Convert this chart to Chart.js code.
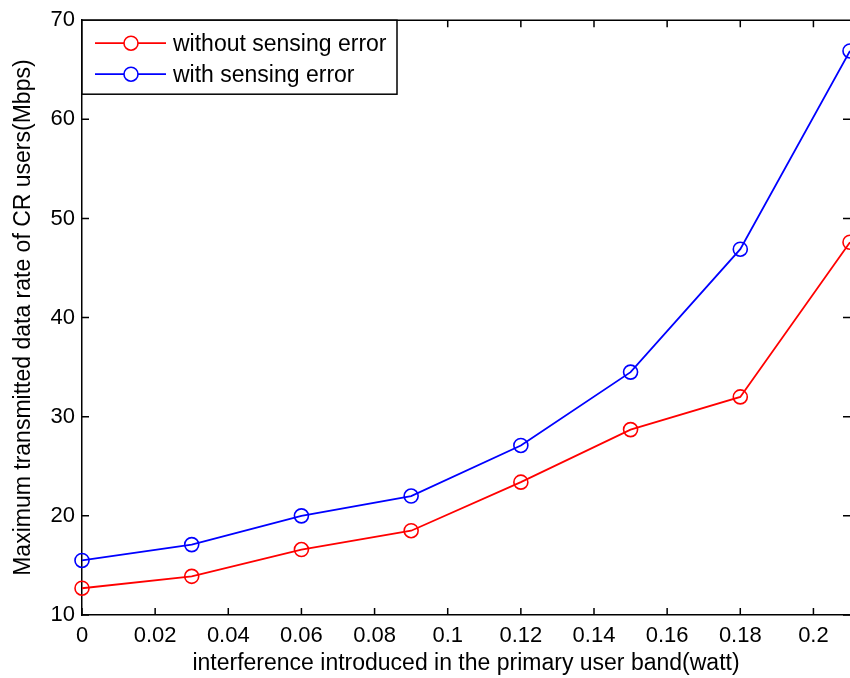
<!DOCTYPE html>
<html>
<head>
<meta charset="utf-8">
<script src="https://cdn.jsdelivr.net/npm/chart.js@4.4.1/dist/chart.umd.min.js"></script>
<style>
  html, body { margin: 0; padding: 0; background: #fff; }
  #wrap { position: relative; width: 850px; height: 678px; }
</style>
</head>
<body>
<div id="wrap"><canvas id="chart"></canvas></div>
<script>
// interference (watt)
const xValues = [0, 0.03, 0.06, 0.09, 0.12, 0.15, 0.18, 0.21];
const withoutError = [12.7, 13.9, 16.6, 18.5, 23.4, 28.7, 32.0, 47.6];
const withError = [15.5, 17.1, 20.0, 22.0, 27.1, 34.5, 46.9, 66.9];
const xTicks = [0, 0.02, 0.04, 0.06, 0.08, 0.1, 0.12, 0.14, 0.16, 0.18, 0.2];
const yTicks = [10, 20, 30, 40, 50, 60, 70];
const seriesNames = ["without sensing error", "with sensing error"];

const toPoints = (ys) => xValues.map((x, i) => ({x: x, y: ys[i]}));
const FONT = "'Liberation Sans', Arial, sans-serif";

// inward ticks + top border, matlab style
const axisTicks = {
    id: "axisTicks",
    afterDraw(chart) {
        const ctx = chart.ctx;
        const a = chart.chartArea;
        const xs = chart.scales.x, ys = chart.scales.y;
        const len = 7;
        ctx.save();
        ctx.strokeStyle = "#000";
        ctx.lineWidth = 1.5;
        ctx.beginPath();
        ctx.moveTo(a.left, a.top);
        ctx.lineTo(a.right, a.top);
        xTicks.forEach(v => {
            const px = xs.getPixelForValue(v);
            ctx.moveTo(px, a.bottom); ctx.lineTo(px, a.bottom - len);
            ctx.moveTo(px, a.top); ctx.lineTo(px, a.top + len);
        });
        yTicks.forEach(v => {
            const py = ys.getPixelForValue(v);
            ctx.moveTo(a.left, py); ctx.lineTo(a.left + len, py);
            ctx.moveTo(a.right, py); ctx.lineTo(a.right - len, py);
        });
        ctx.stroke();
        ctx.restore();
    }
};

// boxed legend inside the plot, top left
const boxLegend = {
    id: "boxLegend",
    afterDraw(chart) {
        const ctx = chart.ctx;
        const a = chart.chartArea;
        const left = a.left, top = a.top, w = 315, h = 74;
        ctx.save();
        ctx.fillStyle = "#fff";
        ctx.fillRect(left, top, w, h);
        ctx.strokeStyle = "#000";
        ctx.lineWidth = 1.5;
        ctx.strokeRect(left, top, w, h);
        chart.data.datasets.forEach((ds, i) => {
            const cy = top + 23 + i * 31;
            ctx.strokeStyle = ds.borderColor;
            ctx.lineWidth = 1.8;
            ctx.beginPath();
            ctx.moveTo(left + 13, cy);
            ctx.lineTo(left + 84, cy);
            ctx.stroke();
            ctx.fillStyle = "#fff";
            ctx.lineWidth = 1.6;
            ctx.beginPath();
            ctx.arc(left + 49, cy, 7, 0, Math.PI * 2);
            ctx.fill();
            ctx.stroke();
            ctx.fillStyle = "#000";
            ctx.font = "23px " + FONT;
            ctx.textBaseline = "middle";
            ctx.fillText(ds.label, left + 91, cy + 1);
        });
        ctx.restore();
    }
};

const commonDs = {
    borderWidth: 1.8,
    pointRadius: 7,
    pointHoverRadius: 7,
    pointBorderWidth: 1.6,
    pointBackgroundColor: "rgba(0,0,0,0)",
    pointStyle: "circle",
    tension: 0,
    clip: false
};

new Chart(document.getElementById("chart"), {
    type: "line",
    data: {
        datasets: [
            Object.assign({label: seriesNames[0], data: toPoints(withoutError), borderColor: "#ff0000", pointBorderColor: "#ff0000"}, commonDs),
            Object.assign({label: seriesNames[1], data: toPoints(withError), borderColor: "#0000ff", pointBorderColor: "#0000ff"}, commonDs)
        ]
    },
    options: {
        responsive: true,
        maintainAspectRatio: false,
        animation: false,
        layout: { autoPadding: false, padding: { top: 17, right: 0, left: 0, bottom: 0 } },
        plugins: {
            legend: { display: false },
            tooltip: { enabled: false }
        },
        scales: {
            x: {
                type: "linear",
                min: 0,
                max: 0.21,
                grid: { display: false, drawTicks: false },
                border: { display: true, color: "#000", width: 1.5 },
                afterBuildTicks: s => { s.ticks = xTicks.map(v => ({value: v})); },
                afterFit: s => { s.height = 63; },
                ticks: {
                    padding: 8,
                    color: "#000",
                    maxRotation: 0,
                    autoSkip: false,
                    font: { family: FONT, size: 22 },
                    callback: v => String(Number(v.toFixed(2)))
                },
                title: {
                    display: true,
                    text: "interference introduced in the primary user band(watt)",
                    color: "#000",
                    padding: { top: 0, bottom: 1 },
                    font: { family: FONT, size: 23 }
                }
            },
            y: {
                min: 10,
                max: 70,
                grid: { display: false, drawTicks: false },
                border: { display: true, color: "#000", width: 1.5 },
                afterBuildTicks: s => { s.ticks = yTicks.map(v => ({value: v})); },
                afterFit: s => { s.width = 82; },
                ticks: {
                    padding: 7,
                    color: "#000",
                    font: { family: FONT, size: 22 }
                },
                title: {
                    display: true,
                    text: "Maximum transmitted data rate of CR users(Mbps)",
                    color: "#000",
                    padding: { top: 10, bottom: 0 },
                    font: { family: FONT, size: 23 }
                }
            }
        }
    },
    plugins: [axisTicks, boxLegend]
});
</script>
</body>
</html>
